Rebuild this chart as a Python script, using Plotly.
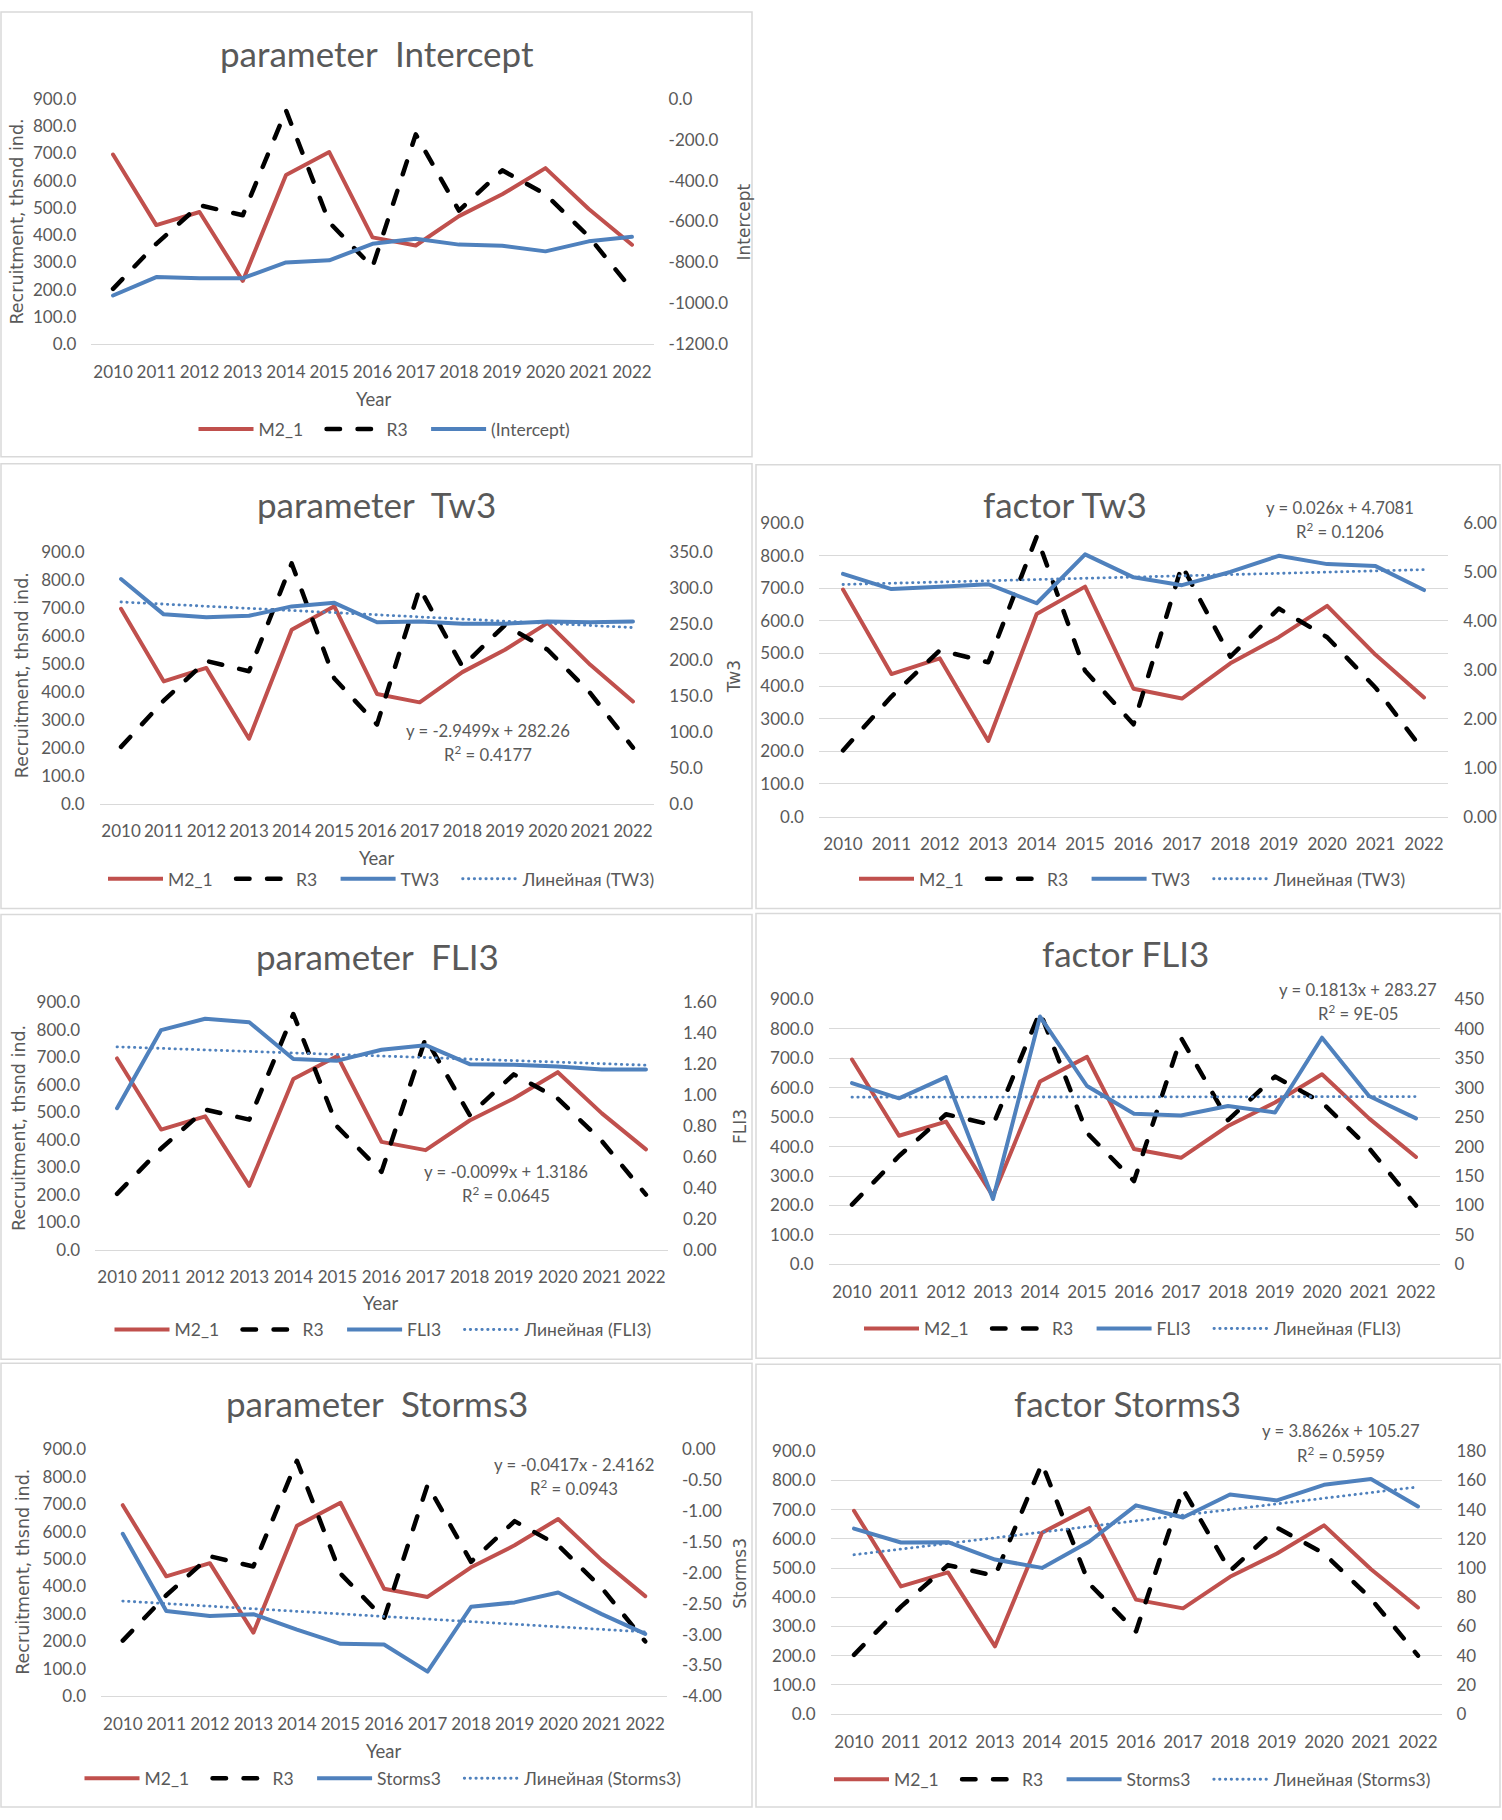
import numpy as np
import plotly.graph_objects as go

W, H = 1502, 1820

# ---------------- data ----------------
years = list(range(2010, 2023))
m2_1 = [696, 437, 485, 232, 621, 705, 392, 362, 470, 550, 646, 496, 365]
r3 = [203, 368, 510, 473, 858, 447, 283, 770, 490, 638, 550, 395, 200]

intercept_param = [-962, -872, -877, -877, -800, -790, -709, -684, -713, -718, -746, -697, -675]
tw3_param = [312, 263, 259, 261, 274, 279, 252, 253, 250, 250, 253, 252, 253]
tw3_factor = [4.96, 4.65, 4.70, 4.75, 4.36, 5.36, 4.89, 4.73, 5.00, 5.33, 5.16, 5.12, 4.63]
fli3_param = [0.915, 1.421, 1.494, 1.472, 1.234, 1.223, 1.294, 1.323, 1.200, 1.196, 1.185, 1.166, 1.166]
fli3_factor = [308, 282, 318, 111, 421, 303, 256, 253, 269, 258, 385, 286, 248]
storms3_param = [-1.37, -2.62, -2.70, -2.67, -2.92, -3.15, -3.16, -3.60, -2.55, -2.48, -2.32, -2.67, -2.99]
storms3_factor = [127, 117.5, 117.7, 105.8, 100.1, 118, 142.9, 134.6, 150.3, 146.3, 157, 160.9, 142.2]

panel_titles = ["parameter\u00a0 Intercept", "parameter\u00a0 Tw3", "factor Tw3",
                "parameter\u00a0 FLI3", "factor FLI3", "parameter\u00a0 Storms3", "factor Storms3"]
series_names = ["(Intercept)", "TW3", "TW3", "FLI3", "FLI3", "Storms3", "Storms3"]
trend_names = [None, "Линейная (TW3)", "Линейная (TW3)", "Линейная (FLI3)", "Линейная (FLI3)",
               "Линейная (Storms3)", "Линейная (Storms3)"]
right_titles = ["Intercept", "Tw3", None, "FLI3", None, "Storms3", None]
equations = [None,
             ("y = -2.9499x + 282.26", "R<sup>2</sup> = 0.4177"),
             ("y = 0.026x + 4.7081", "R<sup>2</sup> = 0.1206"),
             ("y = -0.0099x + 1.3186", "R<sup>2</sup> = 0.0645"),
             ("y = 0.1813x + 283.27", "R<sup>2</sup> = 9E-05"),
             ("y = -0.0417x - 2.4162", "R<sup>2</sup> = 0.0943"),
             ("y = 3.8626x + 105.27", "R<sup>2</sup> = 0.5959")]
left_ticks = [0, 100, 200, 300, 400, 500, 600, 700, 800, 900]
right_ticks = [
    [-1200, -1000, -800, -600, -400, -200, 0],
    [0, 50, 100, 150, 200, 250, 300, 350],
    [0, 1, 2, 3, 4, 5, 6],
    [0, 0.2, 0.4, 0.6, 0.8, 1.0, 1.2, 1.4, 1.6],
    [0, 50, 100, 150, 200, 250, 300, 350, 400, 450],
    [-4.0, -3.5, -3.0, -2.5, -2.0, -1.5, -1.0, -0.5, 0.0],
    [0, 20, 40, 60, 80, 100, 120, 140, 160, 180],
]
right_decimals = [1, 1, 2, 2, 0, 2, 0]
left_title = "Recruitment, thsnd ind."
x_title = "Year"

series_values = [intercept_param, tw3_param, tw3_factor, fli3_param, fli3_factor, storms3_param, storms3_factor]

# ---------------- layout geometry (pixels) ----------------
geo = [
    dict(kind="param", box=(1, 752, 1, 451), plot=(91.4, 653.6, 89, 337), title=(377, 42),
         legend=(384.5, 423), year=(373, 393), ltitle=(17, 213), rtitle=(744, 214), eq=None),
    dict(kind="param", box=(1, 752, 458, 908), plot=(99.7, 654.3, 547, 802), title=(376, 499),
         legend=(382, 878), year=(376, 857), ltitle=(22, 672), rtitle=(734, 674), eq=(488, 728, 751)),
    dict(kind="factor", box=(756, 1500, 459, 908), plot=(818.8, 1448.2, 518, 815), title=(1065, 499),
         legend=(1133, 878), year=None, ltitle=None, rtitle=None, eq=(1340, 503, 526)),
    dict(kind="param", box=(1, 752, 914, 1364), plot=(95, 668, 1003, 1253), title=(377, 956),
         legend=(383.5, 1334), year=(380, 1307), ltitle=(19, 1130), rtitle=(740, 1129), eq=(505.5, 1175, 1197)),
    dict(kind="factor", box=(756, 1500, 913, 1363), plot=(828.5, 1439.5, 1000, 1268), title=(1125, 953),
         legend=(1133, 1333), year=None, ltitle=None, rtitle=None, eq=(1358, 990, 1013)),
    dict(kind="param", box=(1, 752, 1368, 1817), plot=(101, 667, 1455, 1705), title=(377, 1408),
         legend=(383.5, 1788), year=(383, 1760), ltitle=(23, 1579), rtitle=(740, 1581), eq=(574, 1471, 1494)),
    dict(kind="factor", box=(756, 1500, 1369, 1817), plot=(830.5, 1441.5, 1457, 1723), title=(1127, 1408),
         legend=(1133, 1789), year=None, ltitle=None, rtitle=None, eq=(1341, 1437, 1460)),
]

C_RED = "#C0504D"
C_BLUE = "#4F81BD"
C_BLACK = "#000000"
C_TXT = "#595959"
C_GRID = "#D9D9D9"
FONT = "Lato, 'Open Sans', sans-serif"
FONT2 = "'DejaVu Sans', Verdana, sans-serif"
PAD = "\u00a0" * 3
DASH_R3 = "13.5px,17.5px"
DOT_TREND = "0.4px,5.4px"


def trend(vals):
    x = np.arange(1, len(vals) + 1)
    k, b = np.polyfit(x, np.asarray(vals, dtype=float), 1)
    return list(k * x + b)


def fx(v):
    return v / W


def fy(v):
    return 1 - v / H


fig = go.Figure()
layout = dict(width=W, height=H, margin=dict(l=0, r=0, t=0, b=0), autosize=False,
              paper_bgcolor="white", plot_bgcolor="rgba(0,0,0,0)",
              hovermode=False, showlegend=True)
shapes = []
annotations = []

for i in range(1, 8):
    g = geo[i - 1]
    xa = f"x{i}"
    yl = f"y{2 * i - 1}"
    yr = f"y{2 * i}"
    leg = "legend" if i == 1 else f"legend{i}"
    has_trend = trend_names[i - 1] is not None

    fig.add_trace(go.Scatter(x=years, y=m2_1, name="M2_1" + PAD, mode="lines",
                             line=dict(color=C_RED, width=4), xaxis=xa, yaxis=yl, legend=leg))
    fig.add_trace(go.Scatter(x=years, y=r3, name="R3" + PAD, mode="lines",
                             line=dict(color=C_BLACK, width=4.5, dash=DASH_R3),
                             xaxis=xa, yaxis=yl, legend=leg))
    vals = series_values[i - 1]
    fig.add_trace(go.Scatter(x=years, y=vals, name=series_names[i - 1] + (PAD if has_trend else ""),
                             mode="lines", line=dict(color=C_BLUE, width=4),
                             xaxis=xa, yaxis=yr, legend=leg))
    if has_trend:
        fig.add_trace(go.Scatter(x=years, y=trend(vals), name=trend_names[i - 1], mode="lines",
                                 line=dict(color=C_BLUE, width=2.8, dash=DOT_TREND),
                                 xaxis=xa, yaxis=yr, legend=leg))

    px0, px1, py0, py1 = g["plot"]
    tickfont = dict(family=FONT, size=17, color=C_TXT)
    xk = "xaxis" if i == 1 else f"xaxis{i}"
    ylk = "yaxis" if (2 * i - 1) == 1 else f"yaxis{2 * i - 1}"
    yrk = f"yaxis{2 * i}"
    layout[xk] = dict(domain=[fx(px0), fx(px1)], anchor=yl, range=[2009.5, 2022.5],
                      tickmode="array", tickvals=years, ticktext=[str(y) for y in years],
                      showline=True, linecolor=C_GRID, linewidth=1, showgrid=False,
                      zeroline=False, ticks="", tickfont=tickfont, ticklabelstandoff=12,
                      fixedrange=True)
    layout[ylk] = dict(domain=[fy(py1), fy(py0)], anchor=xa, range=[0, 900],
                       tickmode="array", tickvals=left_ticks,
                       ticktext=[f"{v:.1f}" for v in left_ticks],
                       showgrid=(g["kind"] == "factor"), gridcolor=C_GRID, gridwidth=1,
                       zeroline=False, showline=False, ticks="", tickfont=tickfont,
                       ticklabelstandoff=14, fixedrange=True)
    rt = right_ticks[i - 1]
    dec = right_decimals[i - 1]
    layout[yrk] = dict(overlaying=yl, side="right", anchor=xa, range=[rt[0], rt[-1]],
                       tickmode="array", tickvals=rt,
                       ticktext=[f"{v:.{dec}f}" for v in rt],
                       showgrid=False, zeroline=False,
                       showline=False, ticks="", tickfont=tickfont, ticklabelstandoff=14,
                       fixedrange=True)

    lx, ly = g["legend"]
    layout[leg] = dict(orientation="h", x=fx(lx), y=fy(ly), xanchor="center", yanchor="middle",
                       font=dict(family=FONT, size=17.5, color=C_TXT), itemwidth=55,
                       bgcolor="rgba(0,0,0,0)", itemclick=False, itemdoubleclick=False)

    bx0, bx1, by0, by1 = g["box"]
    shapes.append(dict(type="rect", xref="paper", yref="paper", x0=fx(bx0), x1=fx(bx1),
                       y0=fy(by1), y1=fy(by0), line=dict(color=C_GRID, width=1.5),
                       fillcolor="rgba(0,0,0,0)", layer="below"))

    tx, ty = g["title"]
    annotations.append(dict(text=panel_titles[i - 1], x=fx(tx), y=fy(ty), xref="paper", yref="paper",
                            showarrow=False, xanchor="center", yanchor="middle",
                            font=dict(family=FONT, size=35, color=C_TXT)))
    if g["year"]:
        yx, yy = g["year"]
        annotations.append(dict(text=x_title, x=fx(yx), y=fy(yy), xref="paper", yref="paper",
                                showarrow=False, xanchor="center", yanchor="middle",
                                font=dict(family=FONT, size=18.5, color=C_TXT)))
    if g["ltitle"]:
        ax, ay = g["ltitle"]
        annotations.append(dict(text=left_title, x=fx(ax), y=fy(ay), xref="paper", yref="paper",
                                showarrow=False, xanchor="center", yanchor="middle", textangle=-90,
                                font=dict(family=FONT2, size=17.5, color=C_TXT)))
    if g["rtitle"]:
        ax, ay = g["rtitle"]
        annotations.append(dict(text=right_titles[i - 1], x=fx(ax), y=fy(ay), xref="paper",
                                yref="paper", showarrow=False, xanchor="center", yanchor="middle",
                                textangle=-90, font=dict(family=FONT2, size=17, color=C_TXT)))
    if g["eq"]:
        ex, ey1, ey2 = g["eq"]
        eq1, eq2 = equations[i - 1]
        annotations.append(dict(text=eq1, x=fx(ex), y=fy(ey1), xref="paper", yref="paper",
                                showarrow=False, xanchor="center", yanchor="middle",
                                font=dict(family=FONT, size=16.7, color=C_TXT)))
        annotations.append(dict(text=eq2, x=fx(ex), y=fy(ey2), xref="paper", yref="paper",
                                showarrow=False, xanchor="center", yanchor="middle",
                                font=dict(family=FONT, size=16.7, color=C_TXT)))

layout["shapes"] = shapes
layout["annotations"] = annotations
fig.update_layout(**layout)

CSS = (".scatterlayer path.js-line{stroke-linecap:round;stroke-linejoin:round;}"
       "path.js-line[style*=\"13.5px\"],path.js-line[style*=\"0.4px\"]{stroke-linecap:round !important;}")

fig.write_html("out.html", config={"displayModeBar": False, "responsive": False},
               post_script=("document.documentElement.style.margin='0';"
                            "document.documentElement.style.overflow='hidden';"
                            "document.body.style.margin='0';"
                            "document.body.style.overflow='hidden';"
                            "var st=document.createElement('style');"
                            "st.textContent='" + CSS + "';"
                            "document.head.appendChild(st);"))
